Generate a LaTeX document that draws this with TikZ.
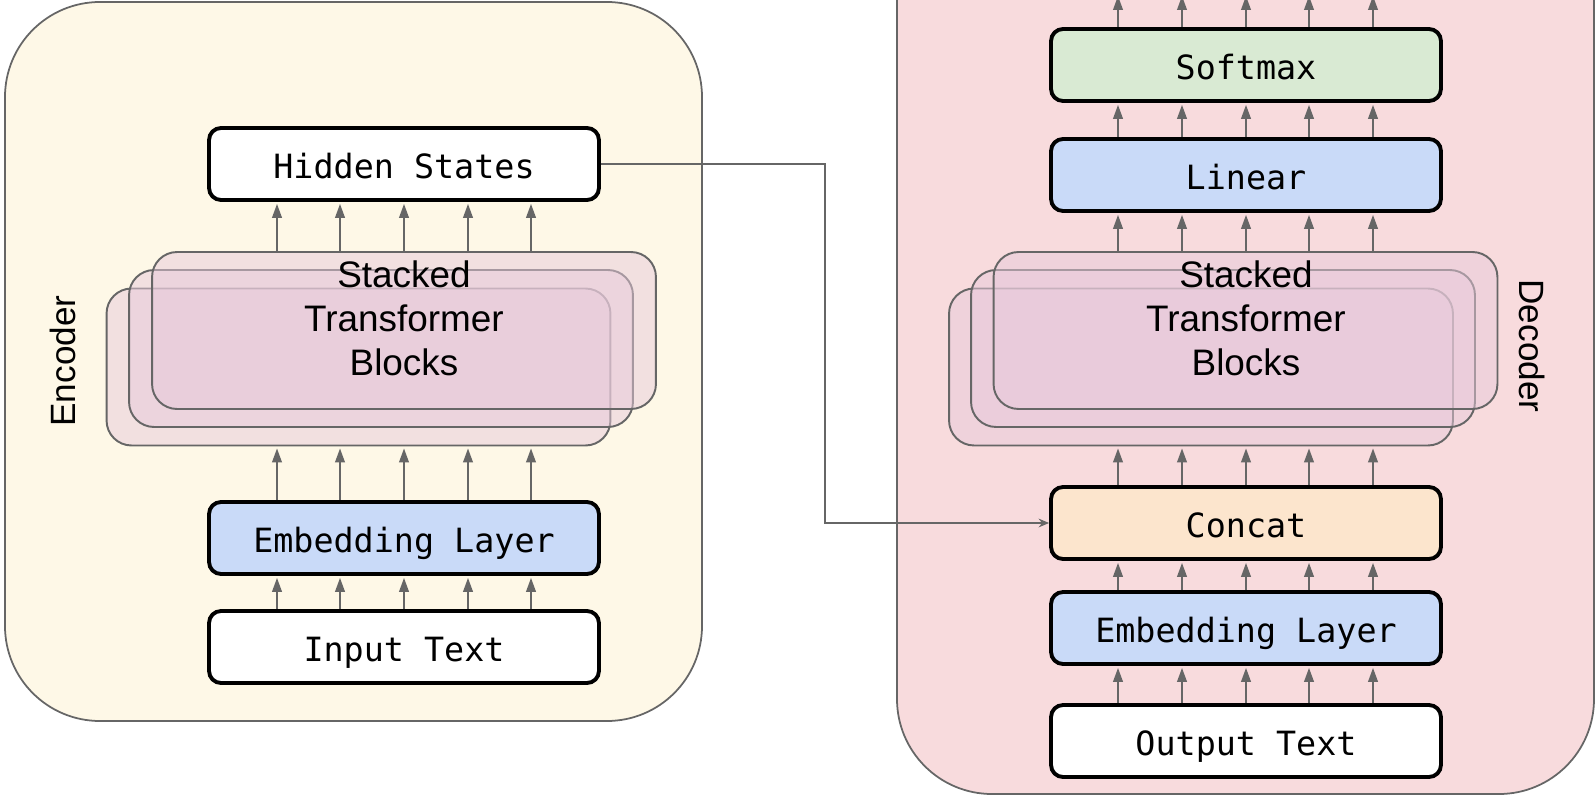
\documentclass[tikz,border=0pt]{standalone}
\usepackage{fontspec}
\setmainfont{Liberation Sans}
\setmonofont{DejaVu Sans Mono}
\usepackage{tikz}
\usetikzlibrary{positioning,arrows.meta}
\definecolor{encbg}{HTML}{FEF8E7}
\definecolor{decbg}{HTML}{F8DBDD}
\definecolor{embblue}{HTML}{C9DAF8}
\definecolor{softgreen}{HTML}{D9EAD3}
\definecolor{catorange}{HTML}{FCE5CD}
\definecolor{blockpink}{HTML}{E8CADB}
\definecolor{linegray}{HTML}{666666}
\tikzset{every picture/.style={line width=0.75pt}}
\tikzset{
  frame/.style={draw=linegray, line width=1pt, rounded corners=1.9cm},
  layerbox/.style={draw=black, line width=2.2pt, rounded corners=0.24cm,
    minimum width=7.8cm, minimum height=1.44cm, inner sep=0pt,
    text height=16pt, text depth=0pt,
    font=\ttfamily\fontsize{19}{22}\selectfont},
  stackbox/.style={draw=linegray, line width=1.1pt, fill=blockpink,
    fill opacity=0.5, rounded corners=0.5cm, minimum width=10.08cm,
    minimum height=3.14cm, inner sep=0pt},
  stacktext/.style={align=center, font=\fontsize{21}{25}\selectfont},
  sidelabel/.style={font=\fontsize{20}{24}\selectfont},
  uparr/.style={draw=linegray, line width=1.1pt, shorten >=1.1pt,
    -{Triangle[length=8pt,width=5.5pt]}},
  link/.style={draw=linegray, line width=0.8pt,
    -{Stealth[length=6pt,width=5pt,inset=2pt]}}
}

\begin{document}
\begin{tikzpicture}[x=0.02cm,y=-0.02cm]
\useasboundingbox (0,0) rectangle (1596,797);
% frames
\draw[frame, fill=encbg] (5,2) rectangle (702,721);
\draw[frame, fill=decbg] (897,-100) rectangle (1594,794);
\node[sidelabel, rotate=90] (enclabel) at (63,361) {Encoder};
\node[sidelabel, rotate=-90] (declabel) at (1532,346) {Decoder};
%
% encoder
\node[layerbox, fill=white] (hid) at (404,164) {Hidden States};
\node[stackbox] (efront) at (358.5,367) {};
\node[stackbox] (emid) at (381,348.5) {};
\node[stackbox] (eback) at (404,330.5) {};
\node[stacktext] (etext) at (404,318) {Stacked\\Transformer\\Blocks};
\node[layerbox, fill=embblue] (emb) at (404,538) {Embedding Layer};
\node[layerbox, fill=white] (inp) at (404,647) {Input Text};
\foreach \d in {-127,-64,0,64,127} {
  \draw[uparr] ([xshift=\d*0.02cm]inp.north) -- ([xshift=\d*0.02cm]emb.south);
  \draw[uparr] ([xshift=\d*0.02cm]emb.north) -- ([xshift=\d*0.02cm]emb.north |- efront.south);
  \draw[uparr] ([xshift=\d*0.02cm]hid.south |- eback.north) -- ([xshift=\d*0.02cm]hid.south);
}
%
% decoder
\coordinate (dtop) at (1246,-6);
\node[layerbox, fill=softgreen] (soft) at (1246,65) {Softmax};
\node[layerbox, fill=embblue] (lin) at (1246,175) {Linear};
\node[stackbox] (dfront) at (1201,367) {};
\node[stackbox] (dmid) at (1223,348.5) {};
\node[stackbox] (dback) at (1245.5,330.5) {};
\node[stacktext] (dtext) at (1246,318) {Stacked\\Transformer\\Blocks};
\node[layerbox, fill=catorange] (cat) at (1246,523) {Concat};
\node[layerbox, fill=embblue] (demb) at (1246,628) {Embedding Layer};
\node[layerbox, fill=white] (out) at (1246,741) {Output Text};
\foreach \d in {-128,-64,0,63,127} {
  \draw[uparr] ([xshift=\d*0.02cm]out.north) -- ([xshift=\d*0.02cm]demb.south);
  \draw[uparr] ([xshift=\d*0.02cm]demb.north) -- ([xshift=\d*0.02cm]cat.south);
  \draw[uparr] ([xshift=\d*0.02cm]cat.north) -- ([xshift=\d*0.02cm]cat.north |- dfront.south);
  \draw[uparr] ([xshift=\d*0.02cm]lin.south |- dback.north) -- ([xshift=\d*0.02cm]lin.south);
  \draw[uparr] ([xshift=\d*0.02cm]lin.north) -- ([xshift=\d*0.02cm]soft.south);
  \draw[uparr] ([xshift=\d*0.02cm]soft.north) -- ([xshift=\d*0.02cm]soft.north |- dtop);
}
%
% hidden states into concat
\coordinate (bend) at (825,0);
\draw[link] (hid.east) -| (bend |- cat.west) -- (cat.west);
\end{tikzpicture}
\end{document}
